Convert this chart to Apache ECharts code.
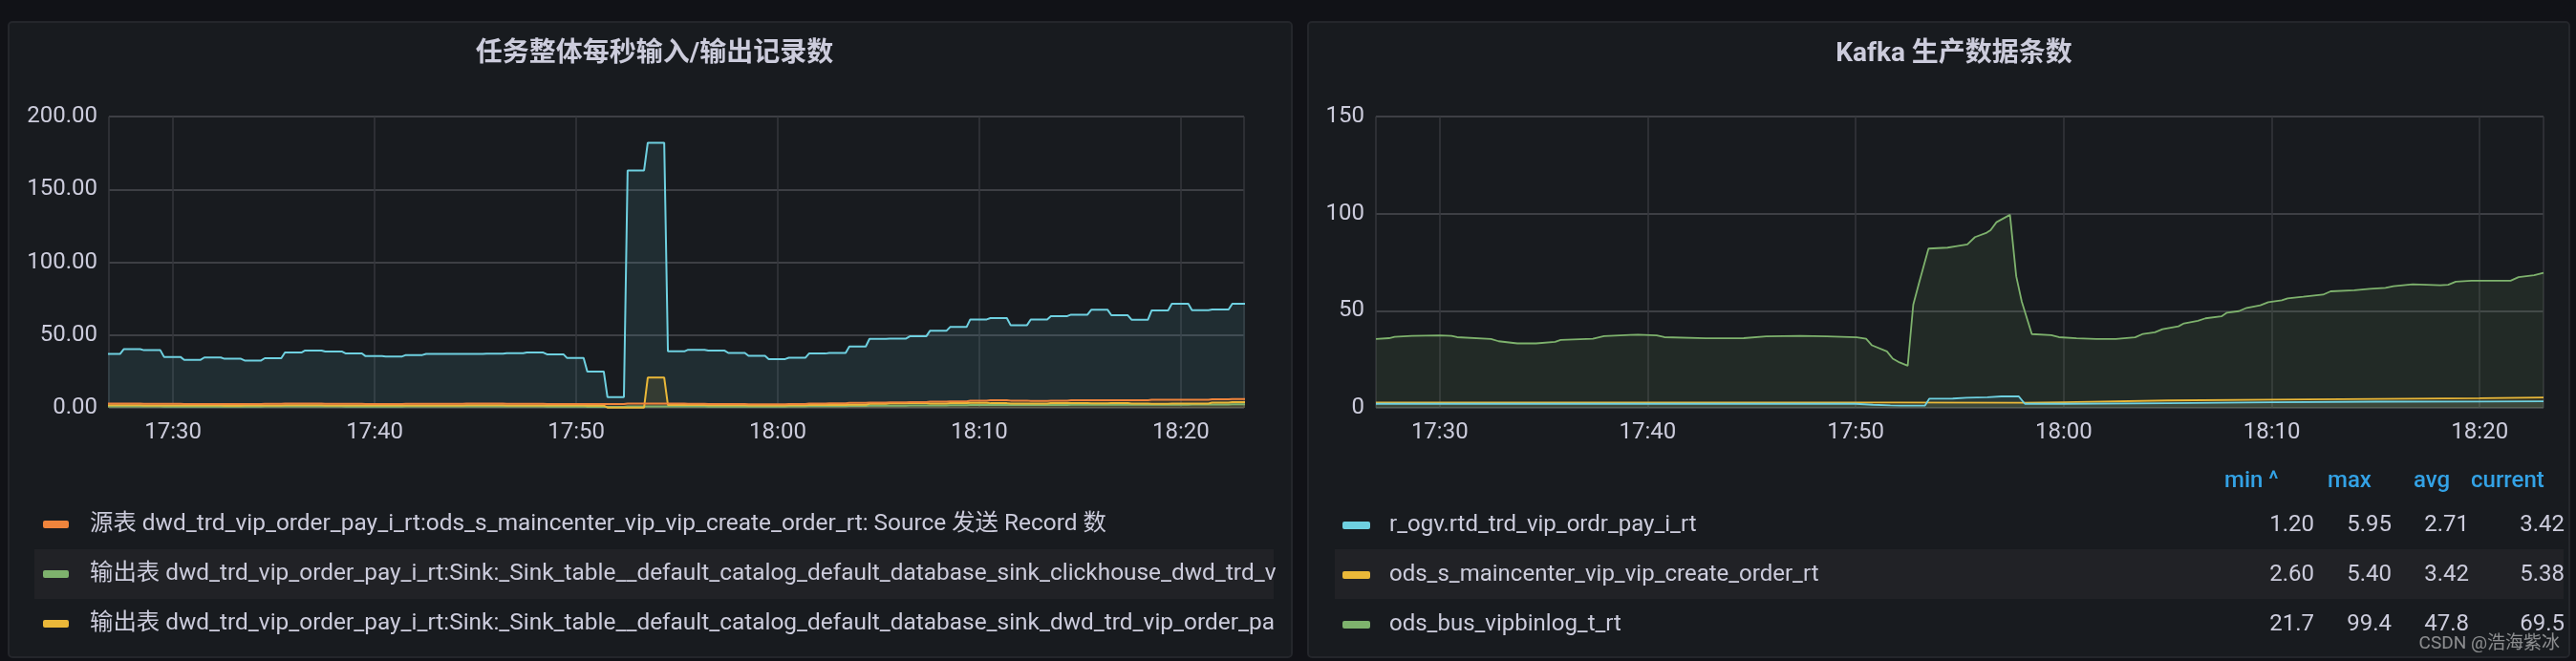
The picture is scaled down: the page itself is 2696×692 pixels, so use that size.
<!DOCTYPE html>
<html>
<head>
<meta charset="utf-8">
<script src="https://cdn.jsdelivr.net/npm/echarts@6/dist/echarts.min.js"></script>
<style>
  html, body { margin: 0; padding: 0; background: #111217; }
  #main { width: 2696px; height: 692px; }
</style>
</head>
<body>
<div id="main"></div>
<script>
var chartDom = document.getElementById("main");
var myChart = echarts.init(chartDom, null, { renderer: "canvas" });

// ---- left panel: per-minute samples, first one starts 17:26:33 ----
var leftStart = "17:26:33";
var leftCyan = [37.0, 40.3, 39.6, 35.0, 33.0, 34.6, 33.7, 32.5, 34.1, 38.0, 39.4, 38.7, 37.4, 35.5, 35.3, 36.3,
  37.0, 37.0, 37.0, 37.2, 37.6, 38.0, 36.8, 34.2, 25.0, 7.4, 163, 182, 38.8, 39.9, 39.3, 37.7, 35.7, 33.5,
  34.4, 37.3, 37.7, 42.1, 47.4, 47.6, 49.1, 52.9, 55.5, 60.7, 61.6, 56.8, 60.7, 63.0, 64.0, 67.3, 63.6,
  60.5, 66.9, 71.5, 67.1, 67.5, 71.5];
var leftOrange = [2.9, 2.9, 2.8, 2.8, 2.7, 2.7, 2.6, 2.7, 2.8, 2.9, 2.9, 2.8, 2.8, 2.7, 2.7, 2.8, 2.8,
  2.8, 2.9, 2.9, 2.8, 2.8, 2.7, 2.7, 2.6, 2.6, 3.0, 3.0, 2.9, 2.8, 2.7, 2.6, 2.5, 2.5,
  2.7, 2.9, 3.1, 3.4, 3.6, 3.8, 4.0, 4.2, 4.5, 4.9, 5.2, 5.0, 4.8, 4.9, 5.2, 5.3, 5.2, 5.3, 5.5, 5.6,
  5.6, 5.9, 6.1];
var leftGreen = [1.0, 1.0, 1.0, 0.9, 0.9, 0.9, 0.8, 0.9, 1.0, 1.0, 1.0, 1.0, 0.9, 0.9, 0.9, 1.0, 1.0,
  1.0, 1.0, 1.0, 1.0, 1.0, 0.9, 0.9, 0.7, 0.7, 1.0, 1.0, 1.0, 1.0, 0.9, 0.9, 0.9, 0.9,
  1.0, 1.1, 1.2, 1.3, 1.4, 1.5, 1.6, 1.7, 1.8, 1.9, 2.0, 2.0, 1.9, 2.0, 2.1, 2.1, 2.1, 2.2, 2.2, 2.2,
  2.3, 2.3, 2.4];
var leftYellow = [1.8, 1.8, 1.7, 1.7, 1.6, 1.6, 1.5, 1.6, 1.7, 1.8, 1.8, 1.7, 1.7, 1.6, 1.6, 1.7, 1.7,
  1.7, 1.8, 1.8, 1.7, 1.7, 1.6, 1.6, 1.5, 0.2, 0.2, 20.8,
  1.9, 1.9, 1.8, 1.8, 1.7, 1.7, 1.8, 1.9, 2.0, 2.1, 2.8, 3.1, 3.2, 3.0, 3.3, 3.5, 3.2, 2.9, 3.0, 3.3,
  3.2, 3.1, 3.3, 3.0, 2.8, 2.9, 3.0, 3.6, 3.9];
var leftNames = [
  "源表 dwd_trd_vip_order_pay_i_rt: Source 接收 Record 数",
  "源表 dwd_trd_vip_order_pay_i_rt:ods_s_maincenter_vip_vip_create_order_rt: Source 发送 Record 数",
  "输出表 dwd_trd_vip_order_pay_i_rt:Sink:_Sink_table__default_catalog_default_database_sink_clickhouse_dwd_trd_vip_order_pay_i_rt",
  "输出表 dwd_trd_vip_order_pay_i_rt:Sink:_Sink_table__default_catalog_default_database_sink_dwd_trd_vip_order_pay_i_rt"
];

// ---- right panel ----
var rightGreenTimes = ["17:26:56", "17:27:34", "17:27:50", "17:28:40", "17:30:00", "17:30:34", "17:30:50",
  "17:32:28", "17:32:50", "17:33:44", "17:34:38", "17:35:33", "17:35:49", "17:37:22", "17:37:54",
  "17:39:10", "17:39:32", "17:40:26", "17:40:48", "17:42:48", "17:44:37", "17:45:42", "17:47:20",
  "17:48:36", "17:50:03", "17:50:30", "17:50:47", "17:51:30", "17:51:47", "17:52:03", "17:52:30",
  "17:52:46", "17:53:03", "17:53:30", "17:54:25", "17:54:48", "17:55:22", "17:55:44", "17:56:18",
  "17:56:29", "17:56:46", "17:57:25", "17:57:43", "17:57:59", "17:58:28", "17:59:24", "17:59:46",
  "18:00:37", "18:01:34", "18:02:30", "18:03:26", "18:03:49", "18:04:23", "18:04:45", "18:05:31",
  "18:05:47", "18:06:27", "18:06:49", "18:07:35", "18:07:51", "18:08:25", "18:08:48", "18:09:27",
  "18:09:50", "18:10:29", "18:10:46", "18:11:31", "18:12:28", "18:12:50", "18:13:58", "18:14:43",
  "18:15:28", "18:15:51", "18:16:47", "18:18:06", "18:18:29", "18:18:51", "18:19:36", "18:21:29",
  "18:21:52", "18:22:37", "18:23:04"];
var rightGreen = [35.5, 35.9, 36.6, 37.1, 37.3, 37.1, 36.4, 35.5, 34.3, 33.2, 33.2, 34.0, 35.0, 35.6, 36.9,
  37.6, 37.7, 37.3, 36.4, 35.8, 35.9, 36.8, 37.1, 36.8, 36.3, 35.6, 32.2, 29.1, 25.3, 23.7, 21.7,
  53.1, 64.5, 82.0, 82.5, 83.2, 84.2, 87.9, 90.2, 91.5, 95.6, 99.4, 67.8, 54.7, 38.0, 37.4, 36.4,
  35.8, 35.5, 35.5, 36.3, 38.1, 38.9, 40.5, 42.0, 43.5, 44.8, 46.1, 47.1, 49.0, 49.8, 51.5, 52.8,
  54.4, 55.4, 56.4, 57.2, 58.3, 60.0, 60.6, 61.3, 61.8, 62.6, 63.6, 63.1, 63.4, 65.0, 65.5, 65.5,
  67.3, 68.3, 69.5];
var rightCyanTimes = ["17:26:56", "17:40:00", "17:50:00", "17:50:50", "17:51:40", "17:52:10", "17:53:20",
  "17:53:32", "17:54:40", "17:55:20", "17:56:20", "17:57:00", "17:57:50", "17:58:08", "18:00:00",
  "18:05:00", "18:10:00", "18:15:00", "18:20:00", "18:23:04"];
var rightCyan = [2.1, 2.1, 2.1, 1.6, 1.3, 1.2, 1.2, 4.7, 4.8, 5.2, 5.5, 5.9, 5.95, 2.1, 2.1, 2.4, 2.9,
  3.2, 3.3, 3.42];
var rightYellowTimes = ["17:26:56", "17:40:00", "17:52:00", "17:58:00", "18:00:00", "18:05:00", "18:10:00",
  "18:15:00", "18:20:00", "18:23:04"];
var rightYellow = [2.7, 2.8, 2.8, 2.6, 2.9, 3.8, 4.2, 4.6, 5.0, 5.38];
var rightNames = ["r_ogv.rtd_trd_vip_ordr_pay_i_rt", "ods_s_maincenter_vip_vip_create_order_rt", "ods_bus_vipbinlog_t_rt"];
var statHeaders = ["min ^", "max", "avg", "current"];
var statMin = ["1.20", "2.60", "21.7"];
var statMax = ["5.95", "5.40", "99.4"];
var statAvg = ["2.71", "3.42", "47.8"];
var statCur = ["3.42", "5.38", "69.5"];

var titles = ["任务整体每秒输入/输出记录数", "Kafka 生产数据条数"];

var FONT = "Roboto, 'Noto Sans CJK SC', sans-serif";
var TXT = "#ccccdc";
var cCyan = "#6ED0E0", cOrange = "#EF843C", cGreen = "#7EB26D", cYellow = "#EAB839";

function t(hms) {
  var p = hms.split(":");
  return new Date(2023, 0, 1, +p[0], +p[1], +p[2]).getTime();
}
function pad(n) { return (n < 10 ? "0" : "") + n; }

// each per-minute sample is held flat for 49 s, then slopes to the next one
function stairs(values) {
  var base = t(leftStart), out = [];
  values.forEach(function (v, i) {
    out.push([base + i * 60000, v]);
    out.push([base + i * 60000 + 49000, v]);
  });
  return out;
}
function pairs(times, values) {
  return times.map(function (s, i) { return [t(s), values[i]]; });
}

function lineSeries(name, color, data, idx, width) {
  return {
    name: name,
    type: "line",
    xAxisIndex: idx,
    yAxisIndex: idx,
    data: data,
    showSymbol: false,
    color: color,
    itemStyle: { color: color },
    lineStyle: { color: color, width: width },
    areaStyle: { color: color, opacity: 0.1 },
    emphasis: { disabled: true },
    animation: false
  };
}

function xAxis(idx, min, max) {
  return {
    type: "time",
    gridIndex: idx,
    min: t(min),
    max: t(max),
    splitNumber: 5,
    axisLine: { show: false },
    axisTick: { show: false },
    axisLabel: {
      color: TXT, fontSize: 24, fontFamily: FONT, margin: 14,
      showMinLabel: false, showMaxLabel: false,
      formatter: function (v) { var d = new Date(v); return pad(d.getHours()) + ":" + pad(d.getMinutes()); }
    },
    splitLine: { show: true, lineStyle: { color: "#35373c", width: 1.5 } }
  };
}
function yAxis(idx, max, dec) {
  return {
    type: "value",
    gridIndex: idx,
    min: 0,
    max: max,
    interval: 50,
    axisLine: { show: false },
    axisTick: { show: false },
    axisLabel: {
      color: TXT, fontSize: 24, fontFamily: FONT, margin: 12,
      formatter: function (v) { return v.toFixed(dec); }
    },
    splitLine: { lineStyle: { color: "#3d3f44", width: 2 } }
  };
}

var headerX = [2328, 2436, 2526, 2586];
var graphics = [
  { type: "rect", z: -10, shape: { x: 9, y: 23, width: 1343, height: 665, r: 4 },
    style: { fill: "#181b1f", stroke: "#24262b", lineWidth: 2 } },
  { type: "rect", z: -10, shape: { x: 1369, y: 23, width: 1320, height: 665, r: 4 },
    style: { fill: "#181b1f", stroke: "#24262b", lineWidth: 2 } },
  { type: "rect", z: -9, shape: { x: 36, y: 575, width: 1297, height: 52 }, style: { fill: "#212226" } },
  { type: "rect", z: -9, shape: { x: 1397, y: 575, width: 1286, height: 52 }, style: { fill: "#212226" } },
  { type: "text", x: 2679, y: 674,
    style: { text: "CSDN @浩海紫冰", fill: "rgba(255,255,255,0.5)", font: "19px " + FONT,
      textAlign: "right", textVerticalAlign: "middle" } }
];
statHeaders.forEach(function (h, i) {
  graphics.push({ type: "text", x: headerX[i], y: 504,
    style: { text: h, fill: "#33a2e5", font: "500 24px " + FONT, textVerticalAlign: "middle" } });
});

var option = {
  backgroundColor: "#111217",
  textStyle: { fontFamily: FONT },
  title: [
    { text: titles[0], left: 680, top: 38, textAlign: "center",
      textStyle: { color: TXT, fontSize: 28, fontWeight: "bold", fontFamily: FONT } },
    { text: titles[1], left: 2040, top: 38, textAlign: "center",
      textStyle: { color: TXT, fontSize: 28, fontWeight: "bold", fontFamily: FONT } }
  ],
  grid: [
    { left: 114, top: 122, width: 1188, height: 305 },
    { left: 1440, top: 122, width: 1222, height: 305 }
  ],
  xAxis: [xAxis(0, "17:26:49", "18:23:08"), xAxis(1, "17:26:56", "18:23:04")],
  yAxis: [yAxis(0, 200, 2), yAxis(1, 150, 0)],
  legend: [
    {
      orient: "vertical", left: 40, top: 531,
      data: leftNames.slice(1),
      icon: "roundRect", itemWidth: 27, itemHeight: 8, itemGap: 26,
      selectedMode: false,
      textStyle: {
        color: TXT, fontSize: 24.4, fontFamily: FONT, lineHeight: 26,
        padding: [0, 0, 0, 17], width: 1244, overflow: "truncate", ellipsis: ""
      }
    },
    {
      orient: "vertical", left: 1400, top: 532,
      data: rightNames,
      icon: "roundRect", itemWidth: 29, itemHeight: 8, itemGap: 26,
      selectedMode: false,
      formatter: function (name) {
        var i = rightNames.indexOf(name);
        return "{n|" + name + "}{v|" + statMin[i] + "}{v|" + statMax[i] + "}{v|" + statAvg[i] + "}{c|" + statCur[i] + "}";
      },
      textStyle: {
        color: TXT, fontSize: 24, fontFamily: FONT, lineHeight: 26, padding: [0, 0, 0, 15],
        rich: {
          n: { width: 887, fontSize: 24, color: TXT, fontFamily: FONT },
          v: { width: 81, align: "right", fontSize: 24, color: TXT, fontFamily: FONT },
          c: { width: 100, align: "right", fontSize: 24, color: TXT, fontFamily: FONT }
        }
      }
    }
  ],
  graphic: graphics,
  series: [
    lineSeries(leftNames[0], cCyan, stairs(leftCyan), 0, 2),
    lineSeries(leftNames[2], cGreen, stairs(leftGreen), 0, 2),
    lineSeries(leftNames[3], cYellow, stairs(leftYellow), 0, 2),
    lineSeries(leftNames[1], cOrange, stairs(leftOrange), 0, 2),
    lineSeries(rightNames[2], cGreen, pairs(rightGreenTimes, rightGreen), 1, 1.8),
    lineSeries(rightNames[1], cYellow, pairs(rightYellowTimes, rightYellow), 1, 1.8),
    lineSeries(rightNames[0], cCyan, pairs(rightCyanTimes, rightCyan), 1, 1.8)
  ]
};

option && myChart.setOption(option);
</script>
</body>
</html>
